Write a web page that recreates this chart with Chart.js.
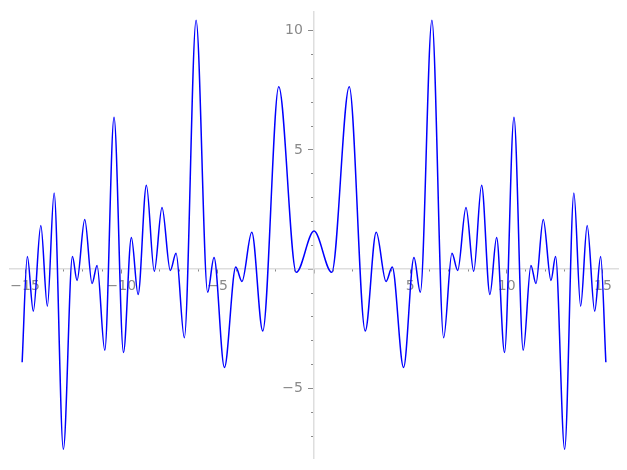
<!DOCTYPE html>
<html>
<head>
<meta charset="utf-8">
<script src="https://cdn.jsdelivr.net/npm/chart.js@4/dist/chart.umd.min.js"></script>
<style>
  html, body { margin: 0; padding: 0; background: #fff; }
  #chart { display: block; }
</style>
</head>
<body>
<canvas id="chart" width="627" height="470"></canvas>
<script>
// curve extrema (x, y)
const xs = [-15.15, -14.88, -14.57, -14.18, -13.84, -13.49, -13.01, -12.54, -12.30, -11.90,
            -11.52, -11.26, -10.86, -10.38, -9.89, -9.48, -9.13, -8.70, -8.29, -7.89,
            -7.46, -7.16, -6.73, -6.12, -5.52, -5.19, -4.65, -4.06, -3.74, -3.23,
            -2.66, -1.83, -0.92, 0,
            0.92, 1.83, 2.66, 3.23, 3.74, 4.06, 4.65, 5.19, 5.52, 6.12,
            6.73, 7.16, 7.46, 7.89, 8.29, 8.70, 9.13, 9.48, 9.89, 10.38,
            10.86, 11.26, 11.52, 11.90, 12.30, 12.54, 13.01, 13.49, 13.84, 14.18,
            14.57, 14.88, 15.15];
const ys = [-3.90, 0.53, -1.76, 1.83, -1.55, 3.20, -7.55, 0.53, -0.47, 2.09,
            -0.60, 0.16, -3.40, 6.37, -3.49, 1.33, -1.06, 3.52, -0.09, 2.59,
            -0.05, 0.67, -2.87, 10.44, -0.97, 0.49, -4.12, 0.09, -0.51, 1.55,
            -2.59, 7.65, -0.13, 1.60,
            -0.13, 7.65, -2.59, 1.55, -0.51, 0.09, -4.12, 0.49, -0.97, 10.44,
            -2.87, 0.67, -0.05, 2.59, -0.09, 3.52, -1.06, 1.33, -3.49, 6.37,
            -3.40, 0.16, -0.60, 2.09, -0.47, 0.53, -7.55, 3.20, -1.55, 1.83,
            -1.76, 0.53, -3.90];

// axis extents and tick steps
const xRange = [-15.78, 15.78];
const yRange = [-7.94, 10.81];
const majorStep = 5;
const minorStep = 1;

const tickGray = '#8a8a8a';
const axisGray = '#dedede';

function fmt(v) {
  if (v === 0) return '';
  return v < 0 ? '\u2212' + Math.abs(v) : String(v);
}

const labelFont = { family: 'DejaVu Sans', size: 14 };

new Chart(document.getElementById('chart'), {
  type: 'line',
  data: {
    datasets: [{
      data: xs.map((x, i) => ({ x: x, y: ys[i] })),
      borderColor: '#0000ff',
      borderWidth: 1.5,
      pointRadius: 0,
      fill: false,
      cubicInterpolationMode: 'monotone'
    }]
  },
  options: {
    responsive: false,
    animation: false,
    layout: { padding: { left: 10, right: 9, top: 10, bottom: 10 } },
    plugins: { legend: { display: false }, tooltip: { enabled: false } },
    scales: {
      x: {
        type: 'linear', axis: 'x',
        min: xRange[0], max: xRange[1],
        position: { y: 0 },
        afterFit: (s) => { s.height = 0; },
        border: { color: axisGray, width: 1.5 },
        grid: { drawOnChartArea: false, drawTicks: true, tickLength: 4, color: tickGray },
        ticks: {
          stepSize: majorStep, includeBounds: false, maxRotation: 0, autoSkip: false,
          padding: 5, color: tickGray, font: labelFont, callback: (v) => fmt(v)
        }
      },
      xMinor: {
        type: 'linear', axis: 'x',
        min: xRange[0], max: xRange[1],
        position: { y: 0 },
        afterFit: (s) => { s.height = 0; },
        border: { display: false },
        grid: { drawOnChartArea: false, drawTicks: true, tickLength: 2.5, color: tickGray },
        ticks: { stepSize: minorStep, includeBounds: false, maxTicksLimit: 100, display: false }
      },
      y: {
        type: 'linear', axis: 'y',
        min: yRange[0], max: yRange[1],
        position: { x: 0 },
        afterFit: (s) => { s.width = 0; },
        border: { color: axisGray, width: 1.5 },
        grid: { drawOnChartArea: false, drawTicks: true, tickLength: 5, color: tickGray },
        ticks: {
          stepSize: majorStep, includeBounds: false, autoSkip: false,
          color: tickGray, font: labelFont,
          callback: (v) => v === 0 ? '' : fmt(v) + '\u2002\u2009\u200a'
        }
      },
      yMinor: {
        type: 'linear', axis: 'y',
        min: yRange[0], max: yRange[1],
        position: { x: 0 },
        afterFit: (s) => { s.width = 0; },
        border: { display: false },
        grid: { drawOnChartArea: false, drawTicks: true, tickLength: 3, color: tickGray },
        ticks: { stepSize: minorStep, includeBounds: false, maxTicksLimit: 100, display: false }
      }
    }
  }
});
</script>
</body>
</html>
